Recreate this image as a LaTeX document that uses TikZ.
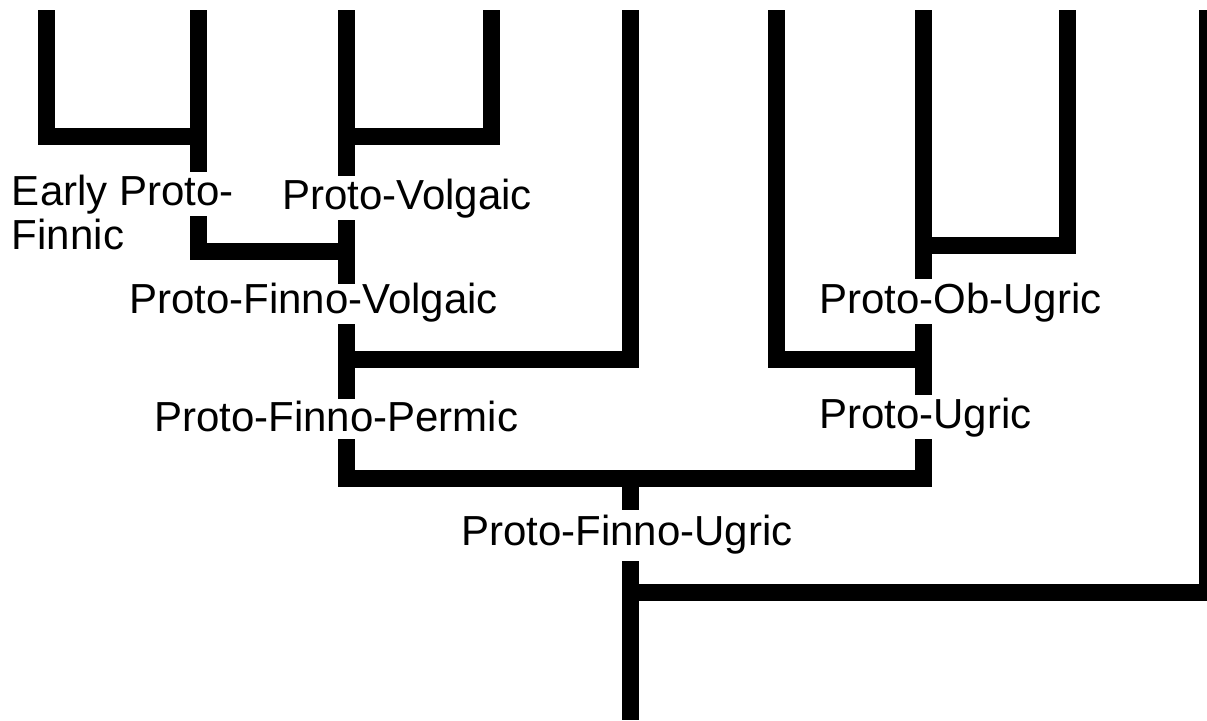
\documentclass[tikz,border=0pt]{standalone}
\usepackage{fontspec}
\setmainfont{Liberation Sans}
\begin{document}
\begin{tikzpicture}[x=1pt,y=-1pt,
  branch/.style={line width=17pt,line join=miter,line cap=butt,black},
  lang/.style={anchor=base west,inner sep=0pt,outer sep=0pt,font=\fontsize{42}{43.3}\selectfont,align=left}]
\useasboundingbox (0,0) rectangle (1207,720);
% x positions
\def\xa{46.5}\def\xb{198.5}\def\xc{346.5}\def\xd{491.5}\def\xe{630}
\def\xf{776.5}\def\xg{923.5}\def\xh{1067}\def\xi{1207.5}
% labels
\node[lang] (epf) at (12,249) {Early Proto-\\Finnic};
\node[lang] (pv) at (282,209) {Proto-Volgaic};
\node[lang] (pfv) at (129,313.3) {Proto-Finno-Volgaic};
\node[lang] (pob) at (819,313.3) {Proto-Ob-Ugric};
\node[lang] (pfp) at (154,431) {Proto-Finno-Permic};
\node[lang] (pu) at (819,428.3) {Proto-Ugric};
\node[lang] (pfu) at (461,545.7) {Proto-Finno-Ugric};
% coordinates
\coordinate (t1) at (\xa,10);
\coordinate (t2) at (\xb,10);
\coordinate (t3) at (\xc,10);
\coordinate (t4) at (\xd,10);
\coordinate (t5) at (\xe,10);
\coordinate (t6) at (\xf,10);
\coordinate (t7) at (\xg,10);
\coordinate (t8) at (\xh,10);
\coordinate (t9) at (\xi,10);
% top-left pair -> Early Proto-Finnic
\draw[branch] (t1) -- (\xa,136.5) -- (\xb,136.5);
\draw[branch] (t2) -- (\xb,172);
% pair -> Proto-Volgaic
\draw[branch] (t4) -- (\xd,136.5) -- (\xc,136.5);
\draw[branch] (t3) -- (\xc,176);
% EPF + PV -> PFV
\draw[branch] (\xb,216) -- (\xb,251) -- (\xc,251);
\draw[branch] (\xc,220) -- (\xc,284);
% PFV + Permic branch -> PFP
\draw[branch] (t5) -- (\xe,359.5) -- (\xc,359.5);
\draw[branch] (\xc,324) -- (\xc,398.7);
% Ob-Ugric
\draw[branch] (t8) -- (\xh,245) -- (\xg,245);
\draw[branch] (t7) -- (\xg,279);
% Hungarian + POU -> PU
\draw[branch] (t6) -- (\xf,359.5) -- (\xg,359.5);
\draw[branch] (\xg,324) -- (\xg,394.7);
% PFP + PU -> PFU
\draw[branch] (\xc,439) -- (\xc,478) -- (\xg,478) -- (\xg,439);
\draw[branch] (\xe,478) -- (\xe,509.7);
% PFU + Samoyed -> root
\draw[branch] (t9) -- (\xi,592) -- (\xe,592);
\draw[branch] (\xe,561) -- (\xe,720);
\end{tikzpicture}
\end{document}
